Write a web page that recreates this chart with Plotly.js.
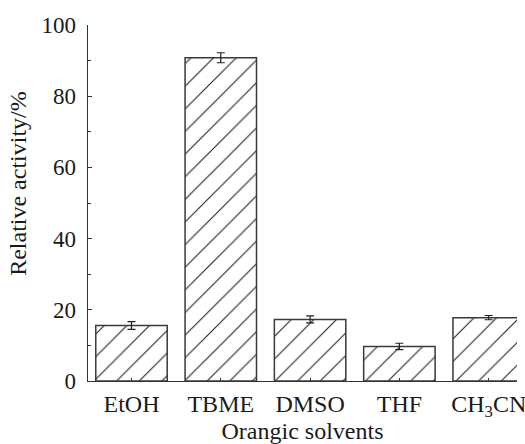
<!DOCTYPE html>
<html>
<head>
<meta charset="utf-8">
<script src="https://cdn.plot.ly/plotly-3.0.1.min.js"></script>
<style>html,body{margin:0;padding:0;background:#fff;}#chart{width:525px;height:444px;}</style>
</head>
<body>
<div id="chart"></div>
<script>
var categories = ["EtOH", "TBME", "DMSO", "THF", "CH3CN"];
var tickLabels = ["EtOH", "TBME", "DMSO", "THF", "CH<sub>3</sub>CN"];
var activity = [15.6, 90.8, 17.3, 9.7, 17.8];
var errors = [1.1, 1.4, 1.0, 0.9, 0.6];

var serif = "Liberation Serif";

var trace = {
  type: "bar",
  x: categories,
  y: activity,
  width: 0.8,
  marker: {
    color: "#ffffff",
    line: {color: "#3a3a3a", width: 1.5},
    pattern: {shape: "/", size: 16, solidity: 0.065, fgcolor: "#1a1a1a", bgcolor: "#ffffff"}
  },
  error_y: {type: "data", array: errors, visible: true, color: "#222", thickness: 1.2, width: 4}
};

var layout = {
  width: 525, height: 444,
  margin: {l: 88, r: 8, t: 25, b: 63},
  paper_bgcolor: "#fff", plot_bgcolor: "#fff",
  showlegend: false,
  font: {family: serif, color: "#1a1a1a"},
  xaxis: {
    type: "category",
    range: [-0.487, 4.317],
    tickmode: "array", tickvals: categories, ticktext: tickLabels,
    ticks: "inside", ticklen: 3, tickcolor: "#333", tickwidth: 1,
    showline: true, linecolor: "#333", linewidth: 1.3,
    showgrid: false, zeroline: false,
    tickfont: {family: serif, size: 24, color: "#1a1a1a"},
    ticklabelstandoff: 1,
    title: {text: "Orangic solvents", font: {family: serif, size: 24, color: "#1a1a1a"}, standoff: 2}
  },
  yaxis: {
    range: [0, 100],
    tickvals: [0, 20, 40, 60, 80, 100],
    ticks: "inside", ticklen: 4, tickcolor: "#333", tickwidth: 1,
    minor: {tickvals: [10, 30, 50, 70, 90], ticks: "inside", ticklen: 2.5, tickcolor: "#333", showgrid: false},
    showline: true, linecolor: "#333", linewidth: 1.3,
    showgrid: false, zeroline: false,
    tickfont: {family: serif, size: 23, color: "#1a1a1a"},
    ticklabelstandoff: 6
  },
  annotations: [{
    text: "Relative activity/%",
    xref: "paper", yref: "paper",
    x: -0.163, y: 0.554, xanchor: "center", yanchor: "middle",
    textangle: -90, showarrow: false,
    font: {family: serif, size: 24, color: "#1a1a1a"}
  }]
};

Plotly.newPlot("chart", [trace], layout, {displayModeBar: false, staticPlot: true});
</script>
</body>
</html>
